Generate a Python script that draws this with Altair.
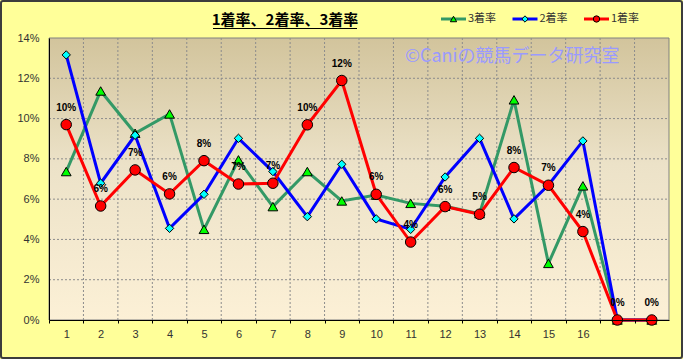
import json
import altair as alt
import pandas as pd

# ---------------- data ----------------
positions = list(range(1, 19))
x_labels = [str(i) for i in range(1, 17)] + ["", ""]
series_names = ["3着率", "2着率", "1着率"]
place3 = [7.37, 11.37, 9.27, 10.23, 4.50, 7.95, 5.63, 7.37, 5.91, 6.20,
          5.79, 5.65, 5.28, 10.93, 2.81, 6.66, 0.0, 0.0]
place2 = [13.16, 6.79, 9.17, 4.55, 6.24, 9.02, 7.37, 5.13, 7.73, 5.02,
          4.50, 7.10, 9.02, 5.02, 6.70, 8.89, 0.0, 0.0]
win = [9.70, 5.66, 7.45, 6.26, 7.91, 6.75, 6.79, 9.69, 11.89, 6.24,
       3.87, 5.63, 5.25, 7.57, 6.69, 4.39, 0.0, 0.0]
y_ticks = [0, 2, 4, 6, 8, 10, 12, 14]
title_text = "1着率、2着率、3着率"
watermark_text = "©Caniの競馬データ研究室"

# ---------------- styles ----------------
line_colors = ["#339966", "#0000ff", "#ff0000"]
marker_fills = ["#00ff00", "#00ffff", "#ff0000"]
marker_shapes = ["triangle-up", "diamond", "circle"]
marker_sizes = [95, 70, 110]

W, H = 620, 282
PAD = {"left": 49, "top": 38, "right": 14, "bottom": 39}
NUM_FONT = "Liberation Sans"
JP_FONT = "Noto Sans CJK JP"

rows = []
for name, vals in zip(series_names, [place3, place2, win]):
    for p, v in zip(positions, vals):
        rows.append({"pos": p, "series": name, "value": v})
df = pd.DataFrame(rows)

band = W / len(positions)
xscale = alt.Scale(domain=[positions[0] - 0.5, positions[-1] + 0.5], nice=False, zero=False)
yscale = alt.Scale(domain=[y_ticks[0], y_ticks[-1]], nice=False, zero=False)

label_expr = json.dumps(x_labels) + "[round(datum.value - 0.5)]"
x_axis = alt.Axis(
    values=[p - 0.5 for p in positions],
    labelExpr=label_expr,
    labelOffset=band / 2,
    labelFlush=False,
    labelOverlap=False,
    labelBound=False,
    grid=False,
    title=None,
    domainColor="#000000",
    domainWidth=1,
    tickColor="#000000",
    tickSize=3,
    labelFont=NUM_FONT,
    labelFontSize=11,
    labelColor="#333333",
    labelPadding=5,
    zindex=1,
)
y_axis = alt.Axis(
    values=y_ticks,
    labelExpr="datum.value + '%'",
    grid=False,
    ticks=False,
    title=None,
    domainColor="#000000",
    domainWidth=1,
    labelFont=NUM_FONT,
    labelFontSize=11,
    labelColor="#333333",
    labelPadding=10,
    zindex=1,
)

X = alt.X("pos:Q", scale=xscale, axis=x_axis)
Y = alt.Y("value:Q", scale=yscale, axis=y_axis)

one = pd.DataFrame({"k": [0]})

# plot-area gradient background
bg = alt.Chart(one).mark_rect(
    fill=alt.Gradient(
        gradient="linear",
        stops=[
            alt.GradientStop(color="#d2c49c", offset=0),
            alt.GradientStop(color="#ece2c8", offset=0.45),
            alt.GradientStop(color="#fcf0d6", offset=1),
        ],
        x1=0, x2=0, y1=0, y2=1,
    ),
    stroke="#808080",
    strokeWidth=1,
).encode(x=alt.value(0), x2=alt.value(W), y=alt.value(0), y2=alt.value(H))

# gridlines
vgrid_df = pd.DataFrame({"pos": [p + 0.5 for p in positions[:-1]]})
hgrid_df = pd.DataFrame({"value": y_ticks[1:-1]})
vgrid = alt.Chart(vgrid_df).mark_rule(color="#8c8c8c", strokeWidth=1, strokeDash=[2, 2]).encode(
    x=X, y=alt.value(0), y2=alt.value(H)
)
hgrid = alt.Chart(hgrid_df).mark_rule(color="#8c8c8c", strokeWidth=1, strokeDash=[2, 2]).encode(
    y=Y, x=alt.value(0), x2=alt.value(W)
)

layers = [bg, vgrid, hgrid]
for name, lc, mf, ms, sz in zip(series_names, line_colors, marker_fills, marker_shapes, marker_sizes):
    b = alt.Chart(df).transform_filter(alt.datum.series == name)
    layers.append(b.mark_line(color=lc, strokeWidth=3).encode(x=X, y=Y, order="pos:Q"))
    layers.append(
        b.mark_point(shape=ms, size=sz, filled=True, fill=mf, stroke="#000000",
                     strokeWidth=1, opacity=1, fillOpacity=1).encode(x=X, y=Y)
    )

# data labels for 1着率
labels = (
    alt.Chart(df)
    .transform_filter(alt.datum.series == series_names[2])
    .transform_calculate(lbl="format(datum.value, '.0f') + '%'")
    .mark_text(font=NUM_FONT, fontSize=10, fontWeight="bold", color="#000000", dy=-17)
    .encode(x=X, y=Y, text="lbl:N")
)
layers.append(labels)

# watermark
wm = alt.Chart(one).mark_text(
    text=watermark_text, font=JP_FONT, fontSize=18, color="#9a9aff",
    align="left", baseline="middle",
).encode(x=alt.value(356), y=alt.value(19))
layers.append(wm)

# title with underline
title = alt.Chart(one).mark_text(
    text=title_text, font=JP_FONT, fontSize=15, fontWeight="bold", color="#000000",
    align="center", baseline="middle",
).encode(x=alt.value(236), y=alt.value(-18))
underline = alt.Chart(one).mark_rule(color="#000000", strokeWidth=1).encode(
    x=alt.value(164), x2=alt.value(308), y=alt.value(-9.5)
)
layers += [title, underline]

# legend (drawn manually)
leg_df = pd.DataFrame({"series": series_names, "i": list(range(len(series_names)))})
leg_base = alt.Chart(leg_df).transform_calculate(
    lx="392 + datum.i * 71.5", lx2="392 + datum.i * 71.5 + 25",
    lm="392 + datum.i * 71.5 + 12.5", lt="392 + datum.i * 71.5 + 27",
)
col_scale = alt.Scale(domain=series_names, range=line_colors)
fill_scale = alt.Scale(domain=series_names, range=marker_fills)
shape_scale = alt.Scale(domain=series_names, range=marker_shapes)
leg_line = leg_base.mark_rule(strokeWidth=3).encode(
    x=alt.X("lx:Q", scale=None, axis=None), x2="lx2:Q", y=alt.value(-19),
    color=alt.Color("series:N", scale=col_scale, legend=None),
)
leg_pt = leg_base.mark_point(size=40, filled=True, stroke="#000000", strokeWidth=1, opacity=1).encode(
    x=alt.X("lm:Q", scale=None, axis=None), y=alt.value(-19),
    fill=alt.Fill("series:N", scale=fill_scale, legend=None),
    shape=alt.Shape("series:N", scale=shape_scale, legend=None),
)
leg_txt = leg_base.mark_text(font=JP_FONT, fontSize=11, color="#333333", align="left", baseline="middle").encode(
    x=alt.X("lt:Q", scale=None, axis=None), y=alt.value(-19), text="series:N"
)
layers += [leg_line, leg_pt, leg_txt]

# outer border
border = alt.Chart(one).mark_rect(fill=None, stroke="#3c3c3c", strokeWidth=2, cornerRadius=2).encode(
    x=alt.value(-PAD["left"] + 1), x2=alt.value(W + PAD["right"] - 1),
    y=alt.value(-PAD["top"] + 1), y2=alt.value(H + PAD["bottom"] - 1),
)
layers.append(border)

chart = (
    alt.layer(*layers)
    .properties(width=W, height=H, padding=PAD, background="#ffff99",
                autosize=alt.AutoSizeParams(type="none"))
    .configure_view(stroke=None)
)

chart.save("out.html", embed_options={"renderer": "svg", "actions": False})
